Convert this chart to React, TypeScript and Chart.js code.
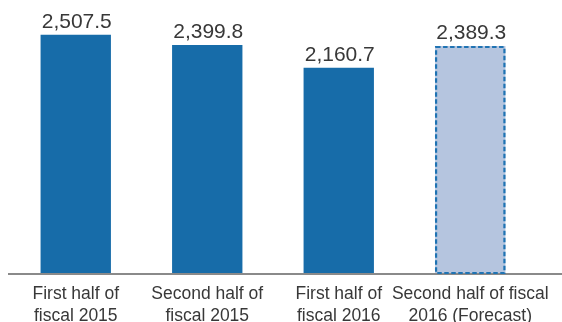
import React, { useEffect, useRef } from "react";
import { Chart, registerables } from "chart.js";

Chart.register(...registerables);

const categories: string[][] = [
  ["First half of", "fiscal 2015"],
  ["Second half of", "fiscal 2015"],
  ["First half of", "fiscal 2016"],
  ["Second half of fiscal", "2016 (Forecast)"],
];
const values: number[] = [2507.5, 2399.8, 2160.7, 2389.3];
const valueLabels: string[] = ["2,507.5", "2,399.8", "2,160.7", "2,389.3"];
const forecastFlags: boolean[] = [false, false, false, true];

const ACTUAL = "#176ca9";
const FORECAST = "#b5c5df";
const FORECAST_EDGE = "#1f73b3";
const TEXT = "#383838";
const FONT = "'Liberation Sans', Arial, Helvetica, sans-serif";

const decorPlugin = {
  id: "decor",
  beforeDatasetsDraw(chart: any) {
    const ctx = chart.ctx;
    const y = chart.scales.y.getPixelForValue(0);
    ctx.save();
    ctx.strokeStyle = "#8a8a8a";
    ctx.lineWidth = 2;
    ctx.beginPath();
    ctx.moveTo(8, y + 1);
    ctx.lineTo(chart.width, y + 1);
    ctx.stroke();
    ctx.restore();
  },
  afterDatasetsDraw(chart: any) {
    const ctx = chart.ctx;
    const meta = chart.getDatasetMeta(0);
    ctx.save();
    meta.data.forEach((bar: any, i: number) => {
      const p = bar.getProps(["x", "y", "width", "base"], true);
      if (forecastFlags[i]) {
        ctx.strokeStyle = FORECAST_EDGE;
        ctx.lineWidth = 2.2;
        ctx.setLineDash([4.5, 2.5]);
        ctx.strokeRect(p.x - p.width / 2 + 1, p.y + 1, p.width - 2, p.base - p.y - 1);
        ctx.setLineDash([]);
      }
      ctx.fillStyle = TEXT;
      ctx.font = `21px ${FONT}`;
      ctx.textAlign = "center";
      ctx.textBaseline = "alphabetic";
      ctx.fillText(valueLabels[i], p.x + 1, p.y - 7);
    });
    ctx.restore();
  },
};

export default function App() {
  const ref = useRef<HTMLCanvasElement>(null);

  useEffect(() => {
    if (!ref.current) return;
    const chart = new Chart(ref.current, {
      type: "bar",
      data: {
        labels: categories,
        datasets: [
          {
            data: values,
            backgroundColor: forecastFlags.map((f) => (f ? FORECAST : ACTUAL)),
            borderWidth: 0,
            categoryPercentage: 1,
            barPercentage: 0.535,
          },
        ],
      },
      options: {
        animation: false,
        responsive: true,
        maintainAspectRatio: false,
        layout: { padding: { top: 7, left: 10, right: 26, bottom: 0 } },
        plugins: {
          legend: { display: false },
          tooltip: { enabled: false },
        },
        scales: {
          x: {
            grid: { display: false, drawTicks: false },
            border: { display: false },
            ticks: {
              color: TEXT,
              padding: 10,
              maxRotation: 0,
              autoSkip: false,
              font: { family: FONT, size: 17.5, lineHeight: 22 / 17.5 },
            },
            afterFit(scale: any) {
              scale.height = 49;
              scale.paddingLeft = 0;
              scale.paddingRight = 0;
            },
          },
          y: {
            display: false,
            min: 0,
            max: 2800,
          },
        },
      },
      plugins: [decorPlugin],
    });
    return () => chart.destroy();
  }, []);

  return (
    <div style={{ position: "fixed", left: 0, top: 0, width: 562, height: 322, background: "#fff" }}>
      <canvas ref={ref} />
    </div>
  );
}
